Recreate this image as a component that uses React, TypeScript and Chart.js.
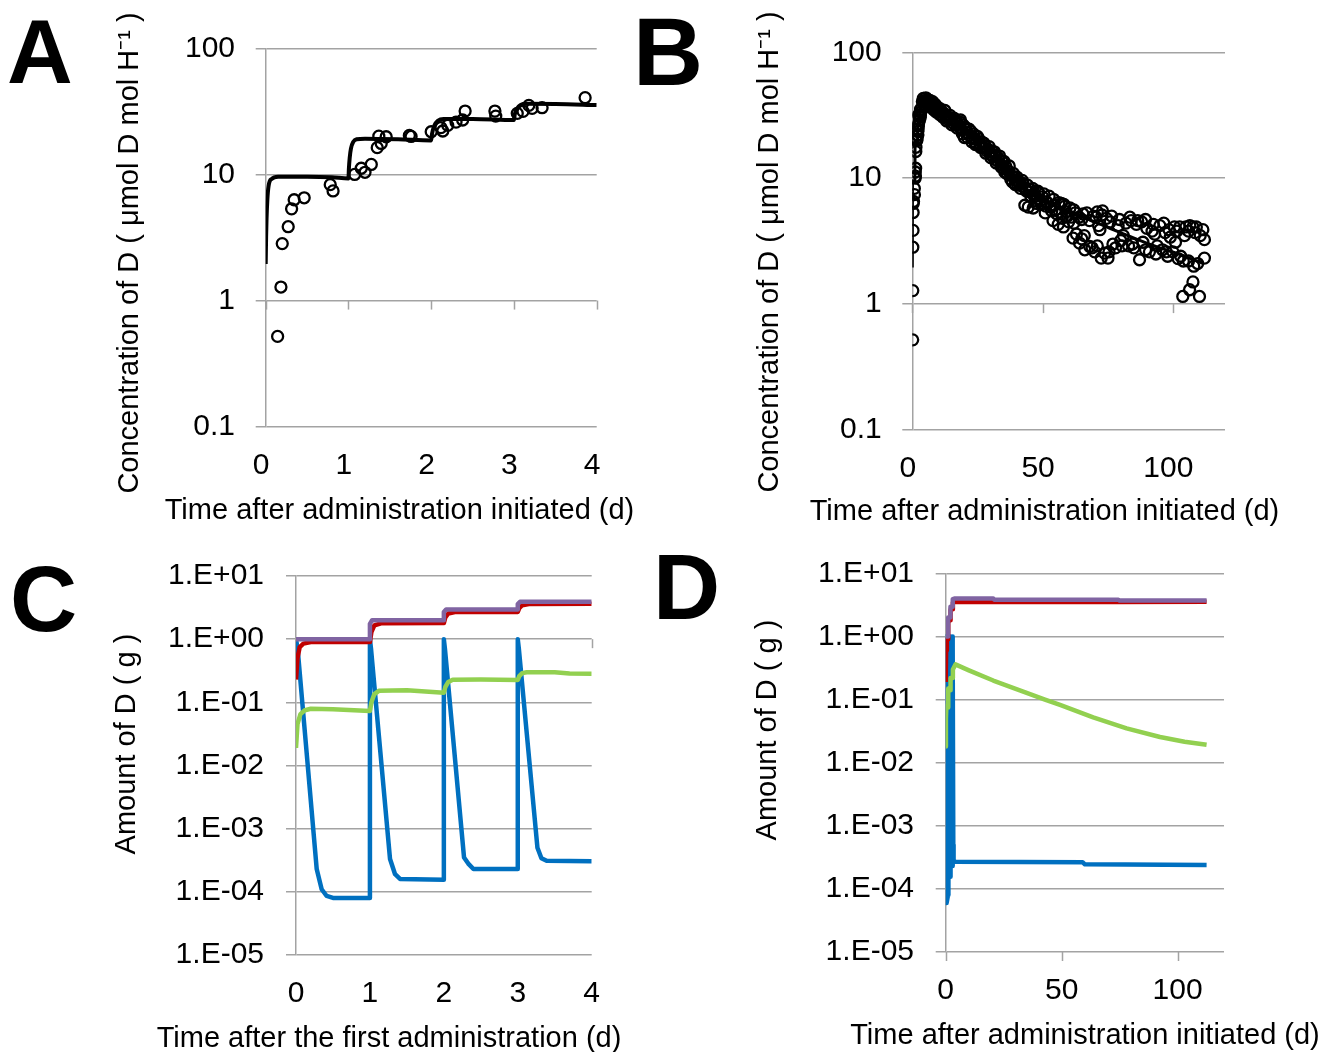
import React, { useEffect, useRef } from 'react';
import { Chart, registerables } from 'chart.js';

Chart.register(...registerables);

const FONT = '"Liberation Sans", Arial, Helvetica, sans-serif';
const GRID = '#a3a3a3';
const TICK_SIZE = 30;
const TITLE_SIZE = 29;
const Y_TICK_LEN = 10;

const BLUE = '#0070C0';
const GREEN = '#92D050';
const RED = '#C00000';
const PURPLE = '#8064A2';

// ---------- Panel A : observed & modelled concentration, days 0-4 ----------
const A_obsDays = [0.144, 0.184, 0.2, 0.272, 0.313, 0.344, 0.465, 0.78, 0.814, 1.075, 1.155, 1.2, 1.276, 1.348, 1.396, 1.367, 1.456, 1.736, 1.757, 2.0, 2.118, 2.14, 2.2, 2.3, 2.38, 2.41, 2.77, 2.78, 3.04, 3.11, 3.18, 3.22, 3.34, 3.86];
const A_obsConc = [0.52, 1.28, 2.83, 3.85, 5.34, 6.3, 6.53, 8.3, 7.4, 10.0, 11.2, 10.4, 12.0, 16.3, 17.6, 20.1, 19.9, 20.4, 20.0, 21.8, 23.5, 22.1, 24.5, 26.0, 27.0, 31.8, 31.8, 29.0, 30.5, 31.6, 35.3, 33.4, 33.8, 40.6];
const A_modelDays = [0, 0.005, 0.01, 0.02, 0.035, 0.07, 0.15, 0.5, 0.8, 1.0, 1.005, 1.015, 1.03, 1.06, 1.1, 1.2, 1.6, 2.0, 2.01, 2.04, 2.08, 2.15, 2.5, 3.0, 3.01, 3.04, 3.08, 3.15, 3.5, 4.0];
const A_modelConc = [1.95, 3.2, 4.4, 6.3, 8.1, 9.2, 9.6, 9.6, 9.5, 9.3, 11, 13.5, 16, 18.2, 19.0, 19.2, 19.0, 18.6, 21, 24.5, 26.6, 27.5, 27.5, 27.0, 30, 33.5, 35.5, 36.3, 36.2, 35.5];

// ---------- Panel B : observed & modelled concentration, days 0-112 ----------
const B_lateDays = [4.5, 5, 5.5, 6, 6.5, 7, 7.5, 8, 8.5, 9, 9.5, 10, 11, 11.5, 12, 13, 13.5, 14, 15, 15.5, 16, 17, 17.5, 18, 18.5, 19, 19.5, 20, 20.5, 21, 22, 22.5, 23, 24, 24.5, 25, 26, 26.5, 27, 28, 28.5, 29, 30, 30.5, 31, 32, 32.5, 33, 34, 34.5, 35, 35.5, 36, 36.5, 37, 38, 38.5, 39, 40, 40.5, 41, 42, 42.5, 43.2, 43.5, 44.5, 45, 45.5, 46.4, 46.5, 47, 47.6, 48, 48.5, 49, 50, 51, 51.5, 52, 53, 54, 54.5, 55, 56, 56.5, 57.2, 58, 58.5, 59, 60, 61, 61.7, 62, 62.5, 63, 64, 64.2, 65, 66, 66.2, 67, 68, 68.1, 69, 69.5, 70, 71, 71.5, 72, 72.5, 73, 73.8, 74.5, 75.1, 76, 77, 78, 79, 80, 81, 82, 83, 84, 85, 86, 87.2, 88, 88.5, 90, 91, 92, 93, 94, 95, 96, 97, 98, 99, 100, 100.6, 101, 102, 102.6, 103.8, 104, 105, 106, 106.4, 107.7, 107.7, 108, 109, 110.2, 110.5, 112.1, 112.1];
const B_lateConc = [41, 40, 42, 39, 40.5, 38, 39.5, 37, 36, 37.5, 35, 34, 33.5, 32, 33, 31, 29.5, 30.5, 29, 27.5, 30, 28.5, 27, 25.5, 29, 24, 26.5, 21, 24.5, 23, 22, 23.5, 21, 20.5, 19, 21.5, 18.5, 19.5, 17.5, 18, 16.5, 17, 15.5, 16.5, 14.8, 15.2, 13.8, 14.5, 12.8, 13.5, 12, 11.2, 12.3, 10.8, 11.3, 10.5, 9.3, 10.2, 9.6, 8.8, 9.3, 8.7, 9.1, 6.1, 8.2, 5.9, 7.8, 8.1, 5.8, 7.4, 7.2, 6.3, 6.9, 7.6, 6.6, 7.1, 5.3, 6.5, 6.3, 5.9, 4.6, 6.1, 5.6, 4.3, 5.4, 6.3, 4.1, 5.97, 5.4, 4.5, 4.9, 3.34, 4.4, 5.3, 3.6, 4.9, 3.05, 4.7, 3.5, 2.7, 5.3, 4.6, 2.87, 2.8, 5.0, 2.6, 5.4, 4.2, 3.9, 2.32, 5.5, 2.54, 4.8, 2.32, 4.5, 3.0, 2.8, 4.2, 3.2, 3.5, 4.4, 2.9, 4.6, 2.8, 4.3, 2.25, 4.5, 3.1, 4.0, 2.6, 3.8, 3.6, 2.9, 4.2, 2.7, 3.7, 2.4, 3.4, 2.6, 4.1, 3.1, 2.3, 4.1, 1.15, 2.2, 4.1, 3.8, 1.3, 1.5, 4.1, 2.0, 4.1, 1.15, 3.5, 3.25, 2.32];
// replicate measurements that widen the band
const B_replDays = [4.2, 4.8, 5.2, 5.8, 6.2, 6.8, 7.2, 7.8, 8.2, 8.8, 9.2, 9.8, 10.5, 10.8, 11.8, 12.5, 13.2, 14.5, 15.2, 16.5, 17.2, 18.2, 19.2, 20.2, 21.2, 21.8, 22.8, 23.5, 24.2, 25.5, 26.2, 27.5, 28.2, 29.5, 30.2, 31.5, 32.2, 33.5, 34.2, 35.2, 36.2, 37.2, 37.8, 38.8, 39.5, 40.2, 41.5, 42.2, 43.8, 44.2, 45.5, 46.2, 47.2, 48.2, 49.5, 50.5, 51.2, 52.5, 53.5, 54.2, 55.5, 56.2, 57.5, 58.2, 59.5, 60.5, 62, 65, 65.5, 70.5, 71, 72.8, 75.5, 76.5, 79.5, 80.5, 83.5, 84.5, 86.5, 89.5, 89.5, 92.5, 93.5, 96.5, 97.5, 98.5, 101.5, 103, 104.5, 106, 106.5, 108.5, 109.5, 111.5];
const B_replConc = [43, 38.5, 43.5, 41.5, 37.5, 41.5, 36.5, 40.5, 35, 38.5, 33.5, 36.5, 32, 35.5, 30.5, 34.5, 28.5, 31.5, 26.5, 28.5, 25, 28, 22.5, 25.5, 21, 24.5, 19.5, 22.5, 18.5, 20.5, 17.5, 19, 15.8, 17.8, 14.5, 16.2, 13.2, 15, 12.2, 13.6, 11, 12.5, 9.8, 10.9, 8.9, 10.2, 8.3, 9.6, 7.9, 8.8, 7.2, 8.3, 6.6, 7.9, 6.2, 7.5, 6.0, 7.2, 5.5, 6.8, 5.2, 6.4, 4.8, 6.2, 5.0, 5.8, 5.6, 3.3, 5.2, 4.9, 2.9, 5.1, 2.6, 5.0, 4.7, 2.9, 4.9, 3.0, 4.6, 4.7, 2.7, 4.3, 2.5, 4.4, 2.6, 3.9, 3.8, 2.4, 3.5, 2.2, 4.2, 3.7, 2.1, 3.9];
const B_modelDays = [0, 0.02, 0.05, 0.1, 0.2, 1.0, 1.05, 1.15, 2.0, 2.05, 2.15, 3.0, 3.05, 3.15, 4.2, 6, 10, 14, 18.3, 22, 25, 28, 31, 35, 38.7, 44, 50.2, 56, 63, 70, 75.8, 82, 88.5, 95, 101.3, 106, 111.5];
const B_modelConc = [1.95, 4, 7.5, 9.2, 9.5, 9.3, 17, 19, 18.6, 25, 27.3, 27, 33, 36.3, 42, 40, 35, 30.5, 26.5, 23.5, 21, 18.5, 16, 12.6, 10.2, 8.1, 6.7, 5.8, 5.1, 4.5, 4.0, 3.55, 3.14, 2.8, 2.54, 2.33, 2.11];

// ---------- Panel C : simulated amounts, days 0-4 ----------
const C_blueDays = [0, 0.023, 0.28, 0.347, 0.415, 0.5, 1.0, 1.0, 1.015, 1.272, 1.34, 1.407, 2.0, 2.0, 2.015, 2.273, 2.33, 2.4, 3.0, 3.0, 3.015, 3.266, 3.32, 3.39, 4.0];
const C_blueAmt = [1.0, 0.69, 2.3e-4, 1.1e-4, 8.6e-5, 8.0e-5, 8.0e-5, 1.0, 0.7, 3.3e-4, 1.9e-4, 1.6e-4, 1.55e-4, 1.0, 0.7, 3.5e-4, 2.8e-4, 2.3e-4, 2.3e-4, 1.0, 0.7, 5.0e-4, 3.4e-4, 3.1e-4, 3.05e-4];
const C_greenDays = [0, 0.02, 0.06, 0.12, 0.2, 0.5, 1.0, 1.02, 1.06, 1.12, 1.5, 2.0, 2.02, 2.06, 2.12, 2.5, 3.0, 3.02, 3.06, 3.12, 3.5, 3.7, 4.0];
const C_greenAmt = [0.019, 0.045, 0.065, 0.075, 0.079, 0.078, 0.073, 0.1, 0.135, 0.152, 0.155, 0.142, 0.175, 0.21, 0.228, 0.23, 0.226, 0.26, 0.29, 0.3, 0.3, 0.285, 0.283];
const C_redDays = [0, 0.02, 0.05, 0.1, 0.2, 1.0, 1.02, 1.06, 1.15, 2.0, 2.02, 2.06, 2.15, 3.0, 3.02, 3.06, 3.15, 4.0];
const C_redAmt = [0.23, 0.5, 0.75, 0.85, 0.9, 0.9, 1.3, 1.65, 1.78, 1.8, 2.2, 2.55, 2.68, 2.7, 3.1, 3.45, 3.6, 3.62];
const C_purpleDays = [0, 0.99, 1.0, 1.03, 1.99, 2.0, 2.03, 2.99, 3.0, 3.03, 4.0];
const C_purpleAmt = [1.0, 1.0, 1.75, 2.0, 2.0, 2.7, 2.95, 2.95, 3.6, 3.9, 3.9];

// ---------- Panel D : simulated amounts, days 0-112 ----------
const D_blueDays = [0, 0.023, 0.28, 0.4, 1.0, 1.0, 1.015, 1.27, 1.4, 2.0, 2.0, 2.015, 2.27, 2.4, 3.0, 3.0, 3.015, 3.27, 3.4, 4.0, 59, 60, 112.5];
const D_blueAmt = [1.0, 0.69, 2.3e-4, 6.0e-5, 8.0e-5, 1.0, 0.7, 3.3e-4, 1.6e-4, 1.55e-4, 1.0, 0.7, 3.5e-4, 2.3e-4, 2.3e-4, 1.0, 0.7, 5.0e-4, 2.8e-4, 2.7e-4, 2.65e-4, 2.45e-4, 2.4e-4];
const D_greenDays = [0, 0.1, 0.3, 1.0, 1.1, 2.0, 2.1, 3.0, 3.1, 4.2, 10, 20.5, 34.9, 42.8, 49.3, 63.6, 78, 92.4, 103, 112.5];
const D_greenAmt = [0.018, 0.05, 0.08, 0.075, 0.15, 0.14, 0.22, 0.22, 0.3, 0.36, 0.29, 0.2, 0.128, 0.1, 0.082, 0.052, 0.035, 0.0255, 0.0215, 0.0192];
const D_redDays = [0, 0.2, 0.5, 1.0, 1.1, 2.0, 2.1, 3.0, 3.1, 4.0, 74.5, 112.5];
const D_redAmt = [0.19, 0.6, 0.9, 0.9, 1.75, 1.8, 2.65, 2.7, 3.45, 3.5, 3.5, 3.55];
const D_purpleDays = [0, 0.3, 1.0, 1.05, 2.0, 2.05, 3.0, 3.05, 4.0, 20.5, 21, 74.5, 75, 112.5];
const D_purpleAmt = [1.0, 1.0, 1.0, 2.0, 2.0, 2.95, 2.95, 3.9, 4.0, 4.0, 3.8, 3.8, 3.7, 3.7];

// ---------- axis ticks ----------
const xTicksShort = [0, 1, 2, 3, 4];
const xLabelsShort = ['0', '1', '2', '3', '4'];
const xTicksLong = [0, 50, 100];
const xLabelsLong = ['0', '50', '100'];
const yTicksConc = [0.1, 1, 10, 100];
const yLabelsConc = ['0.1', '1', '10', '100'];
const yTicksAmt = [1e-5, 1e-4, 1e-3, 1e-2, 1e-1, 1, 10];
const yLabelsAmt = ['1.E-05', '1.E-04', '1.E-03', '1.E-02', '1.E-01', '1.E+00', '1.E+01'];

const TITLE_TIME = 'Time after administration initiated (d)';
const TITLE_TIME_FIRST = 'Time after the first administration (d)';
const TITLE_CONC = 'Concentration of D ( \u03bcmol D mol H\u207b\u00b9 )';
const TITLE_AMT = 'Amount of D ( g )';

const pairs = (xs: number[], ys: number[]) => xs.map((x, i) => ({ x, y: ys[i] }));

// small tick marks where the category axis crosses the value axis
const crossTicks = {
  id: 'crossTicks',
  beforeDatasetsDraw(chart: any, _args: any, opts: any) {
    const xs = chart.scales.x;
    const ys = chart.scales.y;
    const ctx = chart.ctx;
    const py = ys.getPixelForValue(opts.at);
    ctx.save();
    ctx.strokeStyle = opts.color;
    ctx.lineWidth = opts.width;
    for (const v of opts.values) {
      const px = Math.round(xs.getPixelForValue(v)) + 0.5;
      ctx.beginPath();
      ctx.moveTo(px, py);
      ctx.lineTo(px, py + opts.length);
      ctx.stroke();
    }
    ctx.restore();
  },
};

function computeLayout(g: any) {
  const LH = TITLE_SIZE * 1.2;
  const TLH = TICK_SIZE * 1.2;
  const W = Math.round(2 * (g.xtX - g.cl));
  const H = Math.round(2 * (g.bottom - g.ytY));
  const ct = g.bottom - H;
  const subPadTop = g.ytX - g.cl - LH / 2;
  const subW = LH + subPadTop;
  const titlePadBottom = g.bottom - g.xtY - LH / 2;
  const titleH = LH + titlePadBottom;
  return {
    W, H, cl: g.cl, ct, subPadTop, titlePadBottom,
    xScaleH: g.bottom - titleH - g.caB,
    topH: g.caT - ct,
    yScaleW: g.caL - g.cl - subW,
    rightW: g.cl + W - g.caR,
    xTickPad: g.xlY - g.caB - TLH / 2,
    yTickPad: g.caL - g.ylR - Y_TICK_LEN,
  };
}

const lineDs = (data: any[], color: string, width: number, order: number, smooth = false) => ({
  data, borderColor: color, backgroundColor: color, borderWidth: width, pointRadius: 0,
  fill: false, order, xAxisID: 'x', yAxisID: 'y',
  ...(smooth ? { cubicInterpolationMode: 'monotone' } : { tension: 0 }),
  borderJoinStyle: 'round', borderCapStyle: 'butt',
});

const pointDs = (data: any[], order: number) => ({
  data, showLine: false, pointRadius: 5.5, pointHoverRadius: 5.5, pointBorderWidth: 2.3,
  pointBorderColor: '#000', pointBackgroundColor: 'rgba(0,0,0,0)', borderColor: '#000',
  backgroundColor: 'rgba(0,0,0,0)', order, xAxisID: 'x', yAxisID: 'y',
});

const PANELS = [
  {
    key: 'A',
    geom: { caL: 265.7, caR: 596.7, caT: 48.3, caB: 426.7, xtX: 399.5, xtY: 511, ytX: 129.5, ytY: 253, cl: 100, bottom: 536, xlY: 466, ylR: 235 },
    xMax: 4, xTicks: xTicksShort, xLabels: xLabelsShort, labelOffset: -4.5,
    yMin: 0.1, yMax: 100, yTicks: yTicksConc, yLabels: yLabelsConc, crossAt: 1,
    xTitle: TITLE_TIME, yTitle: TITLE_CONC,
    datasets: [
      lineDs(pairs(A_modelDays, A_modelConc), '#000', 4, 0, true),
      pointDs(pairs(A_obsDays, A_obsConc), 1),
    ],
  },
  {
    key: 'B',
    geom: { caL: 912.3, caR: 1225, caT: 52.3, caB: 430, xtX: 1044.5, xtY: 512, ytX: 770, ytY: 252, cl: 745, bottom: 537, xlY: 469, ylR: 881.7 },
    xMax: 120, xTicks: xTicksLong, xLabels: xLabelsLong, labelOffset: -4.5,
    yMin: 0.1, yMax: 100, yTicks: yTicksConc, yLabels: yLabelsConc, crossAt: 1,
    xTitle: TITLE_TIME, yTitle: TITLE_CONC,
    datasets: [
      lineDs(pairs(B_modelDays, B_modelConc), '#000', 3, 0, true),
      pointDs(pairs(A_obsDays.concat(B_lateDays, B_replDays), A_obsConc.concat(B_lateConc, B_replConc)), 1),
    ],
  },
  {
    key: 'C',
    geom: { caL: 296, caR: 591.7, caT: 576, caB: 955, xtX: 389, xtY: 1039, ytX: 126.5, ytY: 744, cl: 100, bottom: 1060, xlY: 994, ylR: 264 },
    xMax: 4, xTicks: xTicksShort, xLabels: xLabelsShort, labelOffset: 0,
    yMin: 1e-5, yMax: 10, yTicks: yTicksAmt, yLabels: yLabelsAmt, crossAt: 1,
    xTitle: TITLE_TIME_FIRST, yTitle: TITLE_AMT,
    datasets: [
      lineDs(pairs(C_blueDays, C_blueAmt), BLUE, 4.5, 3),
      lineDs(pairs(C_greenDays, C_greenAmt), GREEN, 4.5, 1),
      lineDs(pairs(C_redDays, C_redAmt), RED, 4.5, 2),
      lineDs(pairs(C_purpleDays, C_purpleAmt), PURPLE, 4.5, 0),
    ],
  },
  {
    key: 'D',
    geom: { caL: 945.7, caR: 1224, caT: 573.3, caB: 952, xtX: 1085, xtY: 1036, ytX: 768, ytY: 730, cl: 745, bottom: 1060, xlY: 991, ylR: 914 },
    xMax: 120, xTicks: xTicksLong, xLabels: xLabelsLong, labelOffset: 0,
    yMin: 1e-5, yMax: 10, yTicks: yTicksAmt, yLabels: yLabelsAmt, crossAt: 1e-5,
    xTitle: TITLE_TIME, yTitle: TITLE_AMT,
    datasets: [
      lineDs(pairs(D_blueDays, D_blueAmt), BLUE, 4.5, 3),
      lineDs(pairs(D_greenDays, D_greenAmt), GREEN, 4.5, 1),
      lineDs(pairs(D_redDays, D_redAmt), RED, 4.5, 2),
      lineDs(pairs(D_purpleDays, D_purpleAmt), PURPLE, 4.5, 0),
    ],
  },
];

const LETTERS = [
  { text: 'A', left: 7, top: 6, size: 91 },
  { text: 'B', left: 633, top: 3, size: 97 },
  { text: 'C', left: 10, top: 553, size: 93 },
  { text: 'D', left: 653, top: 541, size: 93 },
];

function makeConfig(p: any, L: any) {
  const tickFont = { family: FONT, size: TICK_SIZE, lineHeight: 1.2 };
  const titleFont = { family: FONT, size: TITLE_SIZE, weight: 'normal', lineHeight: 1.2 };
  const dummy = {
    type: 'linear', display: true,
    grid: { display: false, drawTicks: false }, border: { display: false }, ticks: { display: false },
  };
  return {
    type: 'line',
    data: { datasets: p.datasets },
    options: {
      animation: false,
      responsive: false,
      maintainAspectRatio: false,
      events: [],
      layout: { padding: 0 },
      plugins: {
        legend: { display: false },
        tooltip: { enabled: false },
        title: {
          display: true, position: 'bottom', text: p.xTitle, color: '#000', font: titleFont,
          padding: { top: 0, bottom: L.titlePadBottom },
        },
        subtitle: {
          display: true, position: 'left', text: p.yTitle, color: '#000', font: titleFont,
          padding: { top: L.subPadTop, bottom: 0 },
        },
        crossTicks: { at: p.crossAt, values: p.xTicks, length: 9, color: GRID, width: 1.5 },
      },
      scales: {
        x: {
          type: 'linear', position: 'bottom', min: 0, max: p.xMax,
          grid: { display: false, drawTicks: false }, border: { display: false },
          afterBuildTicks: (s: any) => { s.ticks = p.xTicks.map((v: number) => ({ value: v })); },
          afterFit: (s: any) => { s.height = L.xScaleH; },
          ticks: {
            color: '#000', font: tickFont, padding: L.xTickPad, labelOffset: p.labelOffset,
            maxRotation: 0, minRotation: 0, autoSkip: false,
            callback: (v: number) => p.xLabels[p.xTicks.indexOf(v)] ?? '',
          },
        },
        y: {
          type: 'logarithmic', position: 'left', min: p.yMin, max: p.yMax,
          grid: { color: GRID, lineWidth: 1.5, tickLength: Y_TICK_LEN, drawTicks: true },
          border: { display: true, color: GRID, width: 1.5 },
          afterBuildTicks: (s: any) => { s.ticks = p.yTicks.map((v: number) => ({ value: v })); },
          afterFit: (s: any) => { s.width = L.yScaleW; },
          ticks: {
            color: '#000', font: tickFont, padding: L.yTickPad, autoSkip: false,
            callback: (v: number) => p.yLabels[p.yTicks.indexOf(v)] ?? '',
          },
        },
        xTop: { ...dummy, position: 'top', afterFit: (s: any) => { s.height = L.topH; } },
        yRight: { ...dummy, position: 'right', afterFit: (s: any) => { s.width = L.rightW; } },
      },
    },
    plugins: [crossTicks],
  };
}

function Panel({ p }: { p: any }) {
  const ref = useRef<HTMLCanvasElement | null>(null);
  const L = computeLayout(p.geom);
  useEffect(() => {
    if (!ref.current) return;
    const chart = new Chart(ref.current, makeConfig(p, L) as any);
    return () => chart.destroy();
  }, []);
  return (
    <canvas
      ref={ref}
      width={L.W}
      height={L.H}
      style={{ position: 'absolute', left: L.cl, top: L.ct, width: L.W, height: L.H }}
    />
  );
}

export default function App() {
  return (
    <div style={{ position: 'absolute', left: 0, top: 0, width: 1337, height: 1052, overflow: 'hidden', background: '#fff' }}>
      {PANELS.map((p) => <Panel key={p.key} p={p} />)}
      {LETTERS.map((l) => (
        <div
          key={l.text}
          style={{
            position: 'absolute', left: l.left, top: l.top,
            font: `bold ${l.size}px ${FONT}`, lineHeight: `${l.size}px`, color: '#000',
          }}
        >
          {l.text}
        </div>
      ))}
    </div>
  );
}
